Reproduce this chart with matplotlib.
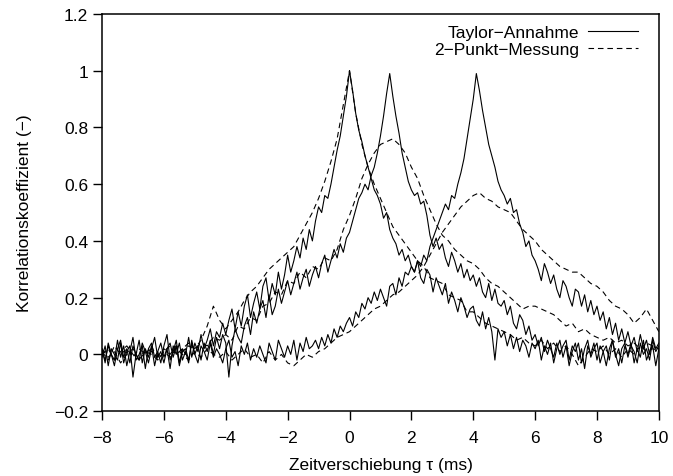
import numpy as np
import matplotlib
matplotlib.use('Agg')
import matplotlib.pyplot as plt
from matplotlib.ticker import FuncFormatter

# time lag axis (ms)
tau_solid = np.round(np.arange(-8.0, 10.01, 0.1), 2)
tau_dash = np.round(np.arange(-8.0, 10.01, 0.2), 2)

# Taylor assumption, peak at 0 ms
taylor_1 = [
    0.02, -0.03, 0.04, 0.00, -0.02, 0.05, -0.01, 0.03, -0.04, 0.01,
    0.06, -0.02, 0.00, 0.03, -0.05, 0.02, 0.04, -0.01, 0.01, -0.03,
    0.03, 0.07, -0.02, 0.01, 0.05, -0.03, 0.02, 0.00, 0.06, -0.01,
    0.04, 0.01, 0.07, 0.02, 0.05, 0.09, 0.03, 0.08, 0.06, 0.11,
    0.07, 0.12, 0.16, 0.09, 0.15, 0.10, 0.17, 0.21, 0.13, 0.18,
    0.22, 0.16, 0.24, 0.27, 0.19, 0.25, 0.21, 0.29, 0.23, 0.28,
    0.35, 0.29, 0.33, 0.38, 0.34, 0.41, 0.37, 0.44, 0.40, 0.47,
    0.52, 0.50, 0.56, 0.55, 0.60, 0.66, 0.72, 0.77, 0.84, 0.91,
    1.00, 0.93, 0.85, 0.79, 0.75, 0.70, 0.66, 0.62, 0.58, 0.56,
    0.53, 0.48, 0.50, 0.44, 0.41, 0.39, 0.35, 0.37, 0.33, 0.35,
    0.31, 0.29, 0.33, 0.27, 0.25, 0.30, 0.28, 0.22, 0.27, 0.24,
    0.21, 0.25, 0.18, 0.22, 0.19, 0.15, 0.20, 0.17, 0.13, 0.16,
    0.17, 0.12, 0.10, 0.15, 0.09, 0.13, 0.08, -0.02, 0.09, 0.06,
    0.08, 0.03, 0.07, 0.02, 0.06, 0.01, 0.05, 0.03, -0.01, 0.04,
    0.02, 0.05, -0.02, 0.03, 0.00, 0.04, -0.03, 0.02, 0.05, -0.01,
    0.03, -0.04, 0.01, 0.04, -0.02, 0.02, -0.05, 0.03, 0.00, 0.04,
    -0.02, 0.03, 0.01, -0.04, 0.02, 0.05, -0.01, 0.02, -0.03, 0.03,
    0.00, 0.04, -0.03, 0.02, -0.01, 0.05, -0.02, 0.01, 0.03, -0.04,
    0.02]

# Taylor assumption, peak at 1.3 ms
taylor_2 = [
    -0.01, 0.03, -0.04, 0.02, 0.00, -0.02, 0.04, -0.03, 0.01, 0.03,
    -0.08, 0.00, 0.05, -0.03, 0.02, -0.01, 0.03, -0.04, 0.01, 0.04,
    -0.01, 0.02, -0.05, 0.03, 0.00, 0.04, -0.02, 0.01, -0.03, 0.05,
    0.00, 0.03, -0.02, 0.04, 0.01, 0.05, 0.00, 0.06, 0.02, 0.07,
    0.04, -0.08, 0.03, 0.09, 0.06, 0.04, 0.10, 0.13, 0.07, 0.15,
    0.11, 0.16, 0.19, 0.13, 0.21, 0.14, 0.17, 0.23, 0.18, 0.22,
    0.26, 0.21, 0.25, 0.29, 0.23, 0.27, 0.30, 0.24, 0.28, 0.31,
    0.27, 0.32, 0.35, 0.29, 0.33, 0.37, 0.34, 0.39, 0.36, 0.41,
    0.43, 0.47, 0.51, 0.55, 0.57, 0.60, 0.58, 0.63, 0.66, 0.71,
    0.77, 0.84, 0.92, 0.99, 0.91, 0.84, 0.78, 0.71, 0.66, 0.61,
    0.58, 0.56, 0.57, 0.53, 0.54, 0.49, 0.42, 0.38, 0.41, 0.37,
    0.39, 0.34, 0.31, 0.36, 0.33, 0.29, 0.32, 0.27, 0.30, 0.26,
    0.28, 0.24, 0.27, 0.22, 0.20, 0.25, 0.19, 0.23, 0.18, 0.17,
    0.19, 0.14, 0.17, 0.11, 0.09, 0.14, 0.12, 0.07, 0.10, 0.05,
    0.07, 0.03, 0.06, 0.01, 0.05, 0.02, -0.01, 0.04, 0.00, 0.03,
    0.05, -0.02, 0.03, 0.01, 0.04, -0.03, 0.02, 0.05, -0.01, 0.02,
    0.04, -0.03, 0.01, 0.03, -0.02, 0.05, 0.00, -0.04, 0.02, 0.04,
    -0.01, 0.03, 0.01, -0.03, 0.04, 0.00, 0.02, -0.02, 0.05, 0.01,
    0.03]

# Taylor assumption, peak at 4.1 ms
taylor_3 = [
    0.01, -0.02, 0.03, 0.00, -0.04, 0.02, 0.05, -0.01, 0.02, -0.03,
    0.03, 0.00, -0.02, 0.04, 0.01, -0.03, 0.02, 0.06, -0.01, 0.01,
    -0.03, 0.02, 0.04, -0.01, 0.03, -0.04, 0.01, 0.02, -0.02, 0.04,
    0.00, -0.03, 0.03, 0.01, -0.02, 0.04, -0.01, 0.02, 0.00, -0.03,
    0.02, 0.05, -0.01, 0.01, -0.04, 0.03, 0.00, 0.04, -0.02, 0.02,
    -0.01, 0.03, 0.00, -0.03, 0.04, 0.01, -0.02, 0.05, 0.02, -0.01,
    0.03, 0.00, 0.05, -0.02, 0.04, 0.01, 0.06, 0.02, 0.03, 0.05,
    0.02, 0.06, 0.03, 0.07, 0.04, 0.09, 0.06, 0.10, 0.08, 0.11,
    0.13, 0.10, 0.15, 0.13, 0.18, 0.16, 0.20, 0.18, 0.22, 0.19,
    0.23, 0.20, 0.17, 0.24, 0.25, 0.21, 0.27, 0.24, 0.29, 0.28,
    0.31, 0.29, 0.33, 0.31, 0.35, 0.33, 0.38, 0.41, 0.44, 0.47,
    0.50, 0.53, 0.51, 0.56, 0.55, 0.60, 0.64, 0.69, 0.76, 0.83,
    0.90, 0.99, 0.93, 0.86, 0.80, 0.74, 0.70, 0.66, 0.61, 0.58,
    0.56, 0.53, 0.55, 0.50, 0.51, 0.46, 0.43, 0.38, 0.40, 0.35,
    0.33, 0.30, 0.26, 0.32, 0.29, 0.25, 0.28, 0.23, 0.20, 0.26,
    0.24, 0.20, 0.17, 0.23, 0.22, 0.17, 0.21, 0.15, 0.19, 0.14,
    0.17, 0.12, 0.15, 0.09, 0.13, 0.07, 0.11, 0.05, 0.09, 0.04,
    0.08, 0.03, 0.06, 0.01, 0.07, 0.02, 0.05, 0.00, 0.06, 0.02,
    0.04]

# two-point measurement
messung_1 = [
    0.01, -0.02, 0.03, 0.00, 0.02,
    -0.01, 0.02, 0.00, 0.03, -0.02,
    0.01, 0.03, 0.00, 0.02, 0.04,
    0.02, 0.05, 0.10, 0.17, 0.12,
    0.09, 0.12, 0.15, 0.19, 0.22,
    0.24, 0.27, 0.30, 0.32, 0.34,
    0.36, 0.38, 0.42, 0.46, 0.50,
    0.55, 0.61, 0.68, 0.76, 0.88,
    1.00, 0.85, 0.74, 0.66, 0.60,
    0.55, 0.50, 0.45, 0.42, 0.39,
    0.36, 0.33, 0.31, 0.27, 0.26,
    0.25, 0.21, 0.20, 0.19, 0.15,
    0.15, 0.13, 0.11, 0.10, 0.09,
    0.08, 0.07, 0.05, 0.06, 0.04,
    0.03, 0.05, 0.02, 0.04, 0.01,
    0.03, 0.00, -0.04, -0.01, 0.02,
    0.01, 0.03, 0.00, 0.02, -0.01,
    0.02, 0.00, 0.03, 0.01, 0.02,
    0.01]

messung_2 = [
    0.00, 0.02, -0.02, 0.01, 0.03,
    0.00, -0.02, 0.02, 0.01, -0.01,
    0.02, 0.00, 0.03, 0.01, 0.03,
    0.02, 0.04, 0.03, 0.06, 0.05,
    0.07, 0.05, 0.10, 0.09, 0.13,
    0.12, 0.17, 0.18, 0.22, 0.21,
    0.26, 0.25, 0.29, 0.27, 0.31,
    0.30, 0.34, 0.33, 0.37, 0.44,
    0.49, 0.55, 0.62, 0.67, 0.71,
    0.74, 0.75, 0.76, 0.74, 0.71,
    0.66, 0.62, 0.56, 0.51, 0.46,
    0.42, 0.40, 0.37, 0.35, 0.33,
    0.32, 0.30, 0.27, 0.25, 0.24,
    0.22, 0.20, 0.18, 0.16, 0.17,
    0.17, 0.16, 0.15, 0.14, 0.12,
    0.10, 0.11, 0.08, 0.09, 0.07,
    0.06, 0.05, 0.06, 0.04, 0.05,
    0.03, 0.04, 0.02, 0.04, 0.03,
    0.02]

messung_3 = [
    0.02, -0.01, 0.01, -0.03, 0.00,
    0.02, -0.02, 0.01, 0.00, -0.02,
    0.01, -0.01, 0.02, 0.00, -0.02,
    0.01, -0.01, 0.02, 0.00, -0.01,
    0.01, -0.02, 0.00, 0.02, -0.01,
    0.00, -0.03, 0.01, -0.02, 0.00,
    -0.03, -0.04, -0.02, 0.00, -0.01,
    0.01, 0.02, 0.04, 0.06, 0.07,
    0.08, 0.10, 0.12, 0.14, 0.16,
    0.17, 0.19, 0.21, 0.22, 0.24,
    0.26, 0.28, 0.31, 0.35, 0.39,
    0.43, 0.46, 0.49, 0.52, 0.54,
    0.56, 0.57, 0.55, 0.54, 0.52,
    0.51, 0.50, 0.47, 0.44, 0.42,
    0.40, 0.37, 0.35, 0.33, 0.31,
    0.30, 0.29, 0.29, 0.27, 0.25,
    0.24, 0.22, 0.19, 0.17, 0.16,
    0.14, 0.11, 0.13, 0.16, 0.12,
    0.08]

y_ticks = [-0.2, 0, 0.2, 0.4, 0.6, 0.8, 1, 1.2]
x_ticks = [-8, -6, -4, -2, 0, 2, 4, 6, 8, 10]

plt.rcParams['font.family'] = ['Liberation Sans', 'DejaVu Sans']
plt.rcParams['font.size'] = 12.5
plt.rcParams['axes.unicode_minus'] = True

fig = plt.figure(figsize=(6.73, 4.77), dpi=100)
ax = fig.add_axes([0.1516, 0.136, 0.8274, 0.8326])

lw = 0.8
ax.plot(tau_solid, taylor_1, color='black', lw=lw, label='Taylor\u2212Annahme')
ax.plot(tau_solid, taylor_2, color='black', lw=lw)
ax.plot(tau_solid, taylor_3, color='black', lw=lw)
ax.plot(tau_dash, messung_1, color='black', lw=lw, dashes=(5, 3.5),
        label='2\u2212Punkt\u2212Messung')
ax.plot(tau_dash, messung_2, color='black', lw=lw, dashes=(5, 3.5))
ax.plot(tau_dash, messung_3, color='black', lw=lw, dashes=(5, 3.5))

ax.set_xlim(-8, 10)
ax.set_ylim(-0.2, 1.2)
ax.set_xticks(x_ticks)
ax.set_yticks(y_ticks)
fmt = FuncFormatter(lambda v, p: ('%g' % v).replace('-', '\u2212'))
ax.xaxis.set_major_formatter(fmt)
ax.yaxis.set_major_formatter(fmt)
ax.tick_params(direction='out', length=6.5, width=1, top=False, right=False)
ax.tick_params(axis='x', pad=7)
for s in ax.spines.values():
    s.set_linewidth(1.1)

ax.set_xlabel('Zeitverschiebung \u03c4 (ms)', labelpad=9)
ax.set_ylabel('Korrelationskoeffizient (\u2212)', labelpad=16)

leg = ax.legend(loc='upper right', frameon=False, markerfirst=False,
                handlelength=2.9, borderaxespad=0, labelspacing=0.12,
                handletextpad=0.5, bbox_to_anchor=(0.975, 0.99))
for line in leg.get_lines():
    line.set_linewidth(0.8)

plt.savefig('out.png', dpi=100)
plt.close('all')
